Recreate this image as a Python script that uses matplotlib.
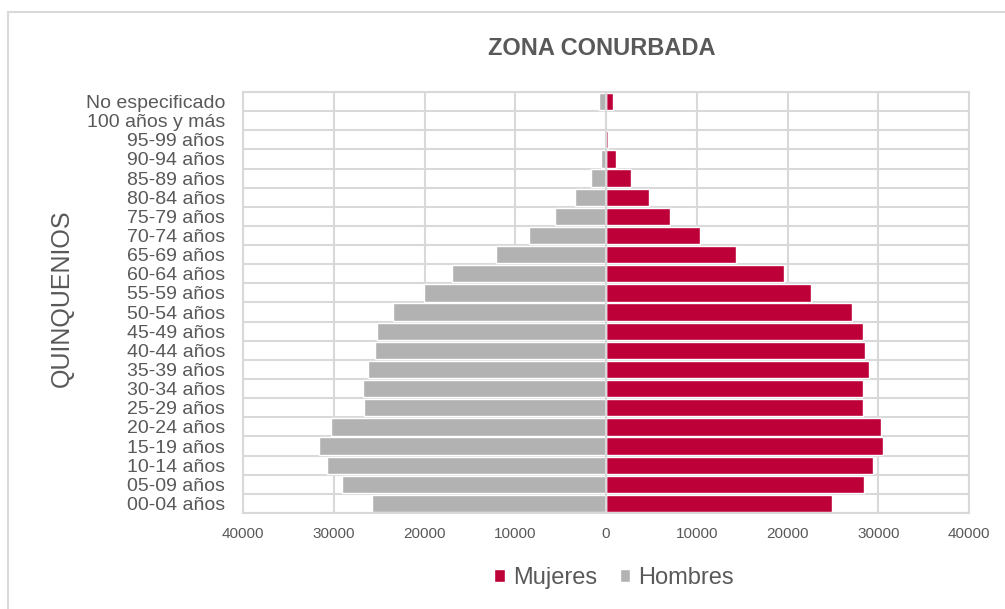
import numpy as np
import matplotlib.pyplot as plt
from matplotlib.patches import Rectangle

plt.rcParams['font.family'] = ['Liberation Sans', 'DejaVu Sans']

# Quinquenios de abajo hacia arriba
grupos = ['00-04 años', '05-09 años', '10-14 años', '15-19 años', '20-24 años',
          '25-29 años', '30-34 años', '35-39 años', '40-44 años', '45-49 años',
          '50-54 años', '55-59 años', '60-64 años', '65-69 años', '70-74 años',
          '75-79 años', '80-84 años', '85-89 años', '90-94 años', '95-99 años',
          '100 años y más', 'No especificado']

mujeres = [24940, 28430, 29460, 30560, 30340, 28360, 28360, 28980, 28500, 28320,
           27070, 22630, 19610, 14330, 10400, 7090, 4780, 2720, 1070, 200, 40, 720]
hombres = [25750, 29130, 30740, 31590, 30300, 26710, 26780, 26260, 25490, 25270,
           23470, 20090, 17000, 12160, 8450, 5580, 3450, 1690, 550, 100, 30, 740]

rojo = '#BE0039'
gris = '#B2B2B2'
texto = '#595959'
rejilla = '#D9D9D9'

fig = plt.figure(figsize=(10.05, 6.09), dpi=100)
ax = fig.add_axes([0.2418, 0.1576, 0.7224, 0.6914])

y = np.arange(len(grupos))
ax.barh(y, mujeres, height=0.9, color=rojo, edgecolor='white', linewidth=1, label='Mujeres', zorder=2)
ax.barh(y, -np.array(hombres), height=0.9, color=gris, edgecolor='white', linewidth=1, label='Hombres', zorder=2)
ax.axvline(0, color=rejilla, lw=1.5, zorder=3)

ax.set_xlim(-40000, 40000)
ax.set_ylim(-0.5, len(grupos) - 0.5)
ax.set_xticks(np.arange(-40000, 40001, 10000))
ax.set_xticklabels([str(abs(v)) for v in range(-40000, 40001, 10000)])
ax.set_yticks(y)
ax.set_yticklabels(grupos)
ax.set_yticks(np.arange(-0.5, len(grupos), 1), minor=True)

ax.grid(axis='x', which='major', color=rejilla, lw=1.5, zorder=0)
ax.grid(axis='y', which='minor', color=rejilla, lw=1.5, zorder=0)
ax.set_axisbelow(True)
for s in ax.spines.values():
    s.set_color(rejilla)
    s.set_linewidth(1.5)

ax.tick_params(axis='x', length=0, labelsize=11, colors=texto, pad=10)
ax.tick_params(axis='y', which='both', length=0, labelsize=14, colors=texto, pad=13)

ax.set_ylabel('QUINQUENIOS', fontsize=18, color=texto)
ax.yaxis.set_label_coords(-0.233, 0.51)

fig.text(0.599, 0.921, 'ZONA CONURBADA', ha='center', va='center',
         fontsize=17, fontweight='bold', color=texto)

leg = fig.legend(loc='center', bbox_to_anchor=(0.611, 0.051), ncol=2, frameon=False,
                 fontsize=17, handlelength=0.45, handleheight=0.45, columnspacing=0.95,
                 handletextpad=0.35)
for t in leg.get_texts():
    t.set_color(texto)

fig.patches.append(Rectangle((8 / 1005, -0.1), 1.2, 1 - 12 / 609 + 0.1, transform=fig.transFigure,
                             fill=False, edgecolor=rejilla, lw=1.5))

fig.savefig('out.png', dpi=100)
